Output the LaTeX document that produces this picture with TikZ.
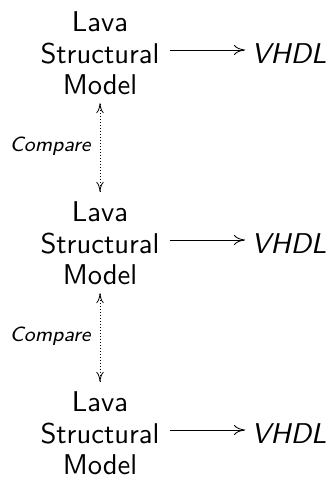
\documentclass[tikz,border=0pt]{standalone}
\usepackage{graphicx}
\usetikzlibrary{arrows.meta}
% text is set small and scaled up, keeping the small optical sizes
\newcommand{\blowup}[1]{\scalebox{2.86}{#1}}
\newcommand{\modeltext}{\blowup{\fontsize{10}{11.05}\selectfont\sffamily
  \begin{tabular}{@{}c@{}}Lava\\Structural\\Model\end{tabular}}}
\begin{document}
\begin{tikzpicture}[x=1pt,y=1pt,
  model/.style={inner sep=0pt},
  target/.style={inner sep=0pt,anchor=base},
  gen/.style={line width=0.85pt,-{Computer Modern Rightarrow[length=11pt,width=10pt]},
    shorten <=10pt,shorten >=6pt},
  cmp/.style={line width=0.8pt,dash pattern=on 0.8pt off 2.2pt,
    {Computer Modern Rightarrow[length=10pt,width=7.5pt]}-{Computer Modern Rightarrow[length=10pt,width=7.5pt]},
    shorten <=-1.5pt,shorten >=7.5pt},
  lbl/.style={inner sep=0pt,anchor=base east,xshift=-9pt}]
\useasboundingbox (0,0) rectangle (332,477);
% three translation stages, each a structural model emitting VHDL
\foreach \k in {0,1,2}{
  \node[model] (m\k) at (100,{477-57-190*\k}) {\modeltext};
  \node[target] (v\k) at (289,{477-63.3-190*\k})
    {\blowup{\fontsize{10}{12}\selectfont\sffamily\itshape VHDL}};
  \draw[gen] ([yshift=7pt]m\k.east) -- ([yshift=7pt]m\k.east -| v\k.west);
}
% comparisons between consecutive models
\foreach \a/\b in {0/1,1/2}{
  \draw[cmp] (m\a.south) -- node[lbl] (c\a)
    {\blowup{\fontsize{7.2}{8}\selectfont\sffamily\itshape Compare}} (m\b.north);
}
\end{tikzpicture}
\end{document}
